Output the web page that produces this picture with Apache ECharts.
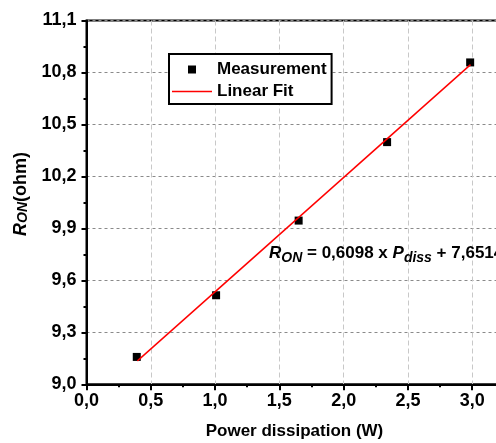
<!DOCTYPE html>
<html><head><meta charset="utf-8">
<script src="https://cdn.jsdelivr.net/npm/echarts@6/dist/echarts.min.js"></script>
<style>html,body{margin:0;padding:0;background:#fff;overflow:hidden}#wrap{width:496px;height:443px;overflow:hidden;position:relative}#c{width:540px;height:443px}</style>
</head><body><div id="wrap"><div id="c"></div></div>
<script>
// ---- data ----
const measX = [0.391, 1.008, 1.650, 2.338, 2.984];
const measY = [9.158, 9.514, 9.945, 10.398, 10.858];
const fitX = [0.396, 2.987];
const fitY = [9.135, 10.845];
const seriesNames = ['Measurement', 'Linear Fit'];
const xAxisTitle = 'Power dissipation (W)';
const yAxisTitle = '{i|R}{s|ON}{n|(ohm)}';
const equationText = '{i|R}{s|ON}{n| = 0,6098 x }{i|P}{s|diss}{n| + 7,6514}';

const FONT = '"Liberation Sans", Arial, sans-serif';
const comma = v => v.toFixed(1).replace('.', ',');

const chart = echarts.init(document.getElementById('c'), null, {renderer: 'canvas'});
chart.setOption({
  animation: false,
  backgroundColor: '#fff',
  textStyle: {fontFamily: FONT},
  grid: {
    left: 86.5, top: 20.5, width: 450, height: 363.8,
    show: true, borderColor: '#000', borderWidth: 2, backgroundColor: 'transparent',
    containLabel: false, outerBoundsMode: 'none'
  },
  legend: {
    orient: 'vertical', left: 169, top: 54,
    padding: [7, 5, 4, 3], itemGap: 5, itemWidth: 40, itemHeight: 8,
    borderColor: '#000', borderWidth: 2, backgroundColor: '#fff',
    textStyle: {fontSize: 17, fontWeight: 'bold', color: '#000', fontFamily: FONT},
    data: [
      {name: seriesNames[0], icon: 'path://M0,0M40,8M16,0L24,0L24,8L16,8Z', itemStyle: {opacity: 1}},
      {name: seriesNames[1], icon: 'path://M0,3.3L40,3.3L40,4.7L0,4.7Z'}
    ]
  },
  xAxis: {
    type: 'value', min: 0, max: 3.5, interval: 0.5,
    axisLine: {show: true, onZero: false, lineStyle: {color: '#000', width: 2}},
    axisTick: {show: true, inside: false, length: 6, lineStyle: {color: '#000', width: 2}},
    minorTick: {show: true, splitNumber: 2, length: 3, lineStyle: {color: '#000', width: 2}},
    axisLabel: {
      fontSize: 18, fontWeight: 'bold', color: '#000', margin: 8, fontFamily: FONT,
      formatter: v => (Math.abs(v * 2 - Math.round(v * 2)) < 1e-6 ? comma(v) : '')
    },
    splitLine: {show: true, lineStyle: {color: '#c8c8c8', type: [5, 3], width: 1}},
    name: xAxisTitle, nameLocation: 'middle', nameGap: 39,
    nameTextStyle: {fontSize: 17, fontWeight: 'bold', color: '#000', fontFamily: FONT, padding: [0, 34, 0, 0]}
  },
  yAxis: {
    type: 'value', min: 9, max: 11.1, interval: 0.3,
    axisLine: {show: true, onZero: false, lineStyle: {color: '#000', width: 2}},
    axisTick: {show: true, inside: false, length: 5, lineStyle: {color: '#000', width: 2}},
    minorTick: {show: true, splitNumber: 2, length: 3, lineStyle: {color: '#000', width: 2}},
    axisLabel: {fontSize: 18, fontWeight: 'bold', color: '#000', margin: 10, fontFamily: FONT, formatter: v => comma(v)},
    splitLine: {show: true, lineStyle: {color: '#8a8a8a', type: [3, 3], width: 1}},
    name: yAxisTitle, nameLocation: 'middle', nameGap: 45, nameRotate: 90,
    nameTextStyle: {
      color: '#000', fontFamily: FONT, padding: [0, 0, 0, 17],
      rich: {
        i: {fontSize: 18, fontWeight: 'bold', fontStyle: 'italic', lineHeight: 20, color: '#000', fontFamily: FONT},
        s: {fontSize: 14, fontWeight: 'bold', fontStyle: 'italic', lineHeight: 14, verticalAlign: 'bottom', color: '#000', fontFamily: FONT},
        n: {fontSize: 18, fontWeight: 'bold', lineHeight: 20, color: '#000', fontFamily: FONT}
      }
    }
  },
  graphic: [{
    type: 'text', left: 269, top: 245, z: 10,
    style: {
      text: equationText, fill: '#000',
      rich: {
        i: {fontSize: 17, fontWeight: 'bold', fontStyle: 'italic', lineHeight: 24, fill: '#000', fontFamily: FONT},
        s: {fontSize: 14, fontWeight: 'bold', fontStyle: 'italic', lineHeight: 12, verticalAlign: 'bottom', fill: '#000', fontFamily: FONT},
        n: {fontSize: 17, fontWeight: 'bold', lineHeight: 24, fill: '#000', fontFamily: FONT}
      }
    }
  }],
  series: [
    {
      name: seriesNames[0], type: 'scatter', symbol: 'rect', symbolSize: 8, z: 2,
      itemStyle: {color: '#000', opacity: 1},
      data: measX.map((x, i) => [x, measY[i]])
    },
    {
      name: seriesNames[1], type: 'line', symbol: 'none', showSymbol: false, z: 3,
      lineStyle: {color: '#ff0000', width: 1.5}, itemStyle: {color: '#ff0000'},
      data: fitX.map((x, i) => [x, fitY[i]])
    }
  ]
});
</script>
</body></html>
